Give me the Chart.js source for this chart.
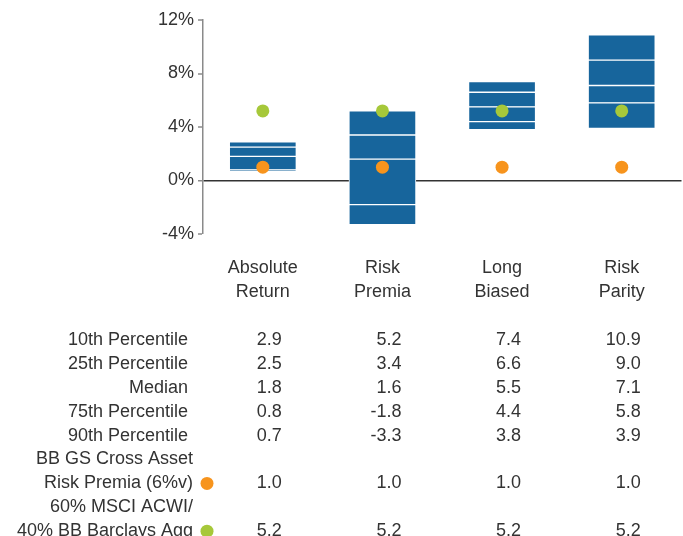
<!DOCTYPE html>
<html>
<head>
<meta charset="utf-8">
<script src="https://cdn.jsdelivr.net/npm/chart.js@4.4.1/dist/chart.umd.min.js"></script>
<style>
  html, body { margin: 0; padding: 0; background: #fff; overflow: hidden; }
  #wrap { width: 683px; height: 536px; overflow: hidden; position: relative; }
  canvas { display: block; }
</style>
</head>
<body>
<div id="wrap"><canvas id="c" width="688" height="536"></canvas></div>
<script>
// ---- Data ----
const categories = [["Absolute", "Return"], ["Risk", "Premia"], ["Long", "Biased"], ["Risk", "Parity"]];
const p10    = [2.9, 5.2, 7.4, 10.9];
const p25    = [2.5, 3.4, 6.6, 9.0];
const median = [1.8, 1.6, 5.5, 7.1];
const p75    = [0.8, -1.8, 4.4, 5.8];
const p90    = [0.7, -3.3, 3.8, 3.9];
const crossAssetRP = [1.0, 1.0, 1.0, 1.0];
const msci6040     = [5.2, 5.2, 5.2, 5.2];
const yTicks = [-4, 0, 4, 8, 12];

const tableRows = [
  { label: ["10th Percentile"], values: p10 },
  { label: ["25th Percentile"], values: p25 },
  { label: ["Median"], values: median },
  { label: ["75th Percentile"], values: p75 },
  { label: ["90th Percentile"], values: p90 },
  { label: ["BB GS Cross Asset", "Risk Premia (6%v)"], values: crossAssetRP, dot: "orange" },
  { label: ["60% MSCI ACWI/", "40% BB Barclays Agg"], values: msci6040, dot: "green" }
];

// ---- Styles ----
const BLUE = "#17659c";
const ORANGE = "#f7941d";
const GREEN = "#a6c83a";
const TEXT = "#333333";
const FONT = "'Liberation Sans', Arial, Helvetica, sans-serif";

const pairs = (lo, hi) => lo.map((v, i) => [v, hi[i]]);
const segStyle = {
  type: "bar",
  backgroundColor: BLUE,
  borderColor: "#ffffff",
  borderWidth: 1,
  borderSkipped: false,
  grouped: false,
  barThickness: 67,
  order: 2
};

const tablePlugin = {
  id: "tablePlugin",
  afterDraw(chart) {
    const ctx = chart.ctx;
    const x = chart.scales.x;
    const top = chart.chartArea.bottom + 106;
    const step = 23.9;
    ctx.save();
    ctx.font = "18px " + FONT;
    ctx.fillStyle = TEXT;
    ctx.textBaseline = "middle";
    let line = 0;
    tableRows.forEach(row => {
      const n = row.label.length;
      const labelRight = row.dot ? 193 : 188;
      row.label.forEach((t, k) => {
        ctx.textAlign = "right";
        ctx.fillStyle = TEXT;
        ctx.fillText(t, labelRight, top + (line + k) * step);
      });
      const vy = top + (line + n - 1) * step;
      if (row.dot) {
        ctx.beginPath();
        ctx.fillStyle = row.dot === "orange" ? ORANGE : GREEN;
        ctx.arc(207, vy, 6.5, 0, Math.PI * 2);
        ctx.fill();
      }
      ctx.fillStyle = TEXT;
      ctx.textAlign = "right";
      row.values.forEach((v, i) => {
        ctx.fillText(v.toFixed(1), x.getPixelForValue(i) + 19, vy);
      });
      line += n;
    });
    ctx.restore();
  }
};

new Chart(document.getElementById("c"), {
  data: {
    labels: categories,
    datasets: [
      Object.assign({ label: "90-75", data: pairs(p90, p75) }, segStyle),
      Object.assign({ label: "75-50", data: pairs(p75, median) }, segStyle),
      Object.assign({ label: "50-25", data: pairs(median, p25) }, segStyle),
      Object.assign({ label: "25-10", data: pairs(p25, p10) }, segStyle),
      { type: "line", label: "BB GS Cross Asset Risk Premia (6%v)", data: crossAssetRP, showLine: false,
        pointRadius: 6.5, pointHoverRadius: 6.5, pointBorderWidth: 0, pointBackgroundColor: ORANGE, backgroundColor: ORANGE, order: 0 },
      { type: "line", label: "60% MSCI ACWI/40% BB Barclays Agg", data: msci6040, showLine: false,
        pointRadius: 6.5, pointHoverRadius: 6.5, pointBorderWidth: 0, pointBackgroundColor: GREEN, backgroundColor: GREEN, order: 0 }
    ]
  },
  options: {
    responsive: false,
    animation: false,
    devicePixelRatio: 1,
    layout: { padding: { top: 20, right: 2, left: 0, bottom: 0 } },
    plugins: { legend: { display: false }, tooltip: { enabled: false } },
    scales: {
      x: {
        offset: true,
        grid: { display: false },
        border: { display: false },
        ticks: { color: TEXT, font: { family: FONT, size: 18, lineHeight: 1.333 }, padding: 14, maxRotation: 0 },
        afterFit(s) { s.height = 302; }
      },
      y: {
        min: -4, max: 12,
        afterBuildTicks(s) { s.ticks = yTicks.map(v => ({ value: v })); },
        afterFit(s) { s.width = 203; },
        border: { display: true, color: "#8a8a8a", width: 1.5 },
        grid: {
          drawOnChartArea: true,
          color: c => (c.tick && c.tick.value === 0 ? "#333333" : "rgba(0,0,0,0)"),
          lineWidth: c => (c.tick && c.tick.value === 0 ? 1.5 : 0),
          tickColor: "#8a8a8a",
          tickWidth: 1.5,
          tickLength: 5
        },
        ticks: { color: TEXT, font: { family: FONT, size: 18 }, padding: 4, callback: v => v + "%" }
      }
    }
  },
  plugins: [tablePlugin]
});
</script>
</body>
</html>
